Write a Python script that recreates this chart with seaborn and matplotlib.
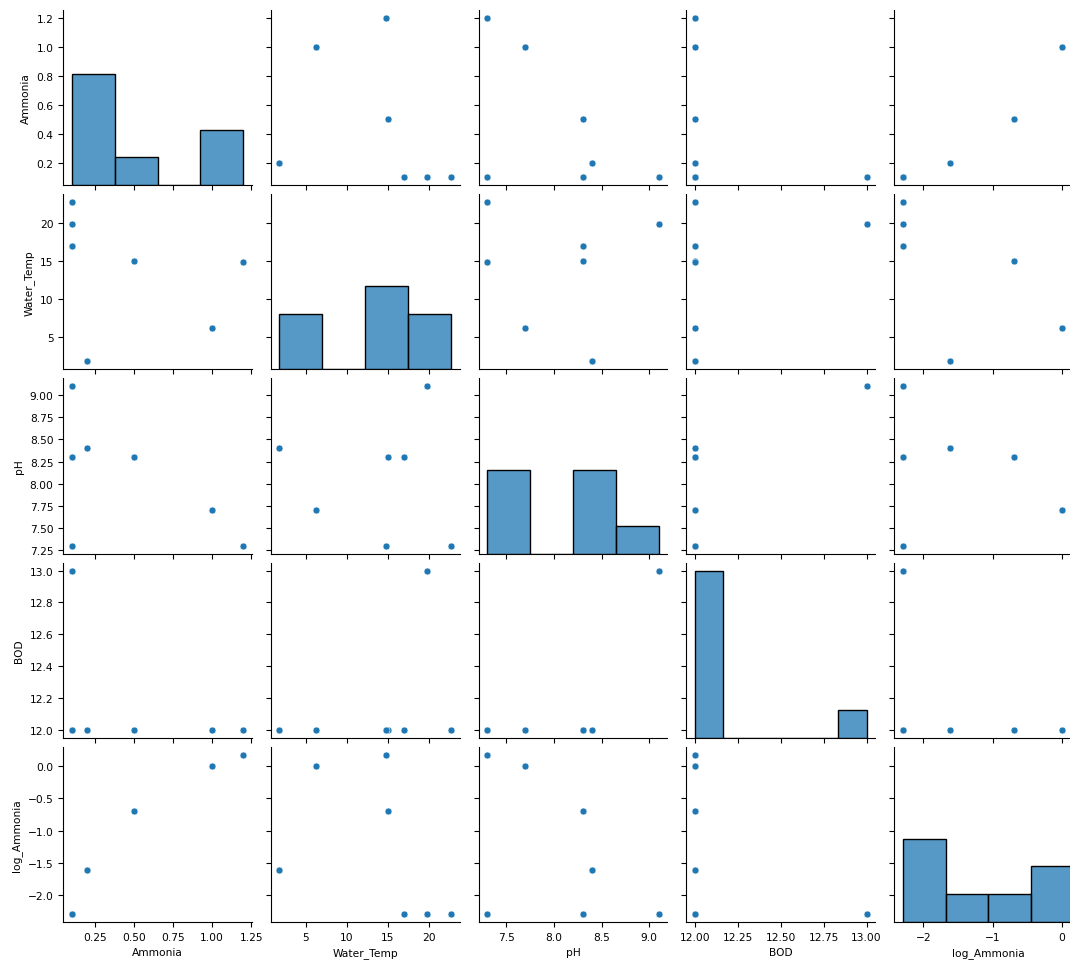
import matplotlib

matplotlib.use("Agg")
import matplotlib.pyplot as plt
import pandas as pd
import seaborn as sns

# one entry per sample
AMMONIA = [0.1, 0.1, 0.1, 0.2, 0.5, 1.0, 1.2]
WATER_TEMP = [17.0, 19.8, 22.7, 1.8, 15.0, 6.2, 14.8]
PH = [8.3, 9.1, 7.3, 8.4, 8.3, 7.7, 7.3]
BOD = [12.0, 13.0, 12.0, 12.0, 12.0, 12.0, 12.0]
LOG_AMMONIA = [-2.30, -2.30, -2.30, -1.61, -0.69, 0.0, 0.18]

# 7.7pt keeps the tick density of the reference (5 x-bins, 8 y-bins)
plt.rcParams["font.size"] = 7.7

df = pd.DataFrame(
    {
        "Ammonia": AMMONIA,
        "Water_Temp": WATER_TEMP,
        "pH": PH,
        "BOD": BOD,
        "log_Ammonia": LOG_AMMONIA,
    }
)

g = sns.pairplot(df, height=2.0, plot_kws={"s": 25})

# the BOD histogram in the reference uses narrower bins
bod_ax = g.diag_axes[3]
for patch in list(bod_ax.patches):
    patch.remove()
sns.histplot(x=df["BOD"], bins=6, color="C0", ax=bod_ax)

fig = g.figure
fig.set_size_inches(10.7, 9.62)
fig.subplots_adjust(left=0.059, right=1.012, bottom=0.0405, top=0.9886,
                    wspace=0.10, hspace=0.051)
fig.savefig("out.png", dpi=100)
